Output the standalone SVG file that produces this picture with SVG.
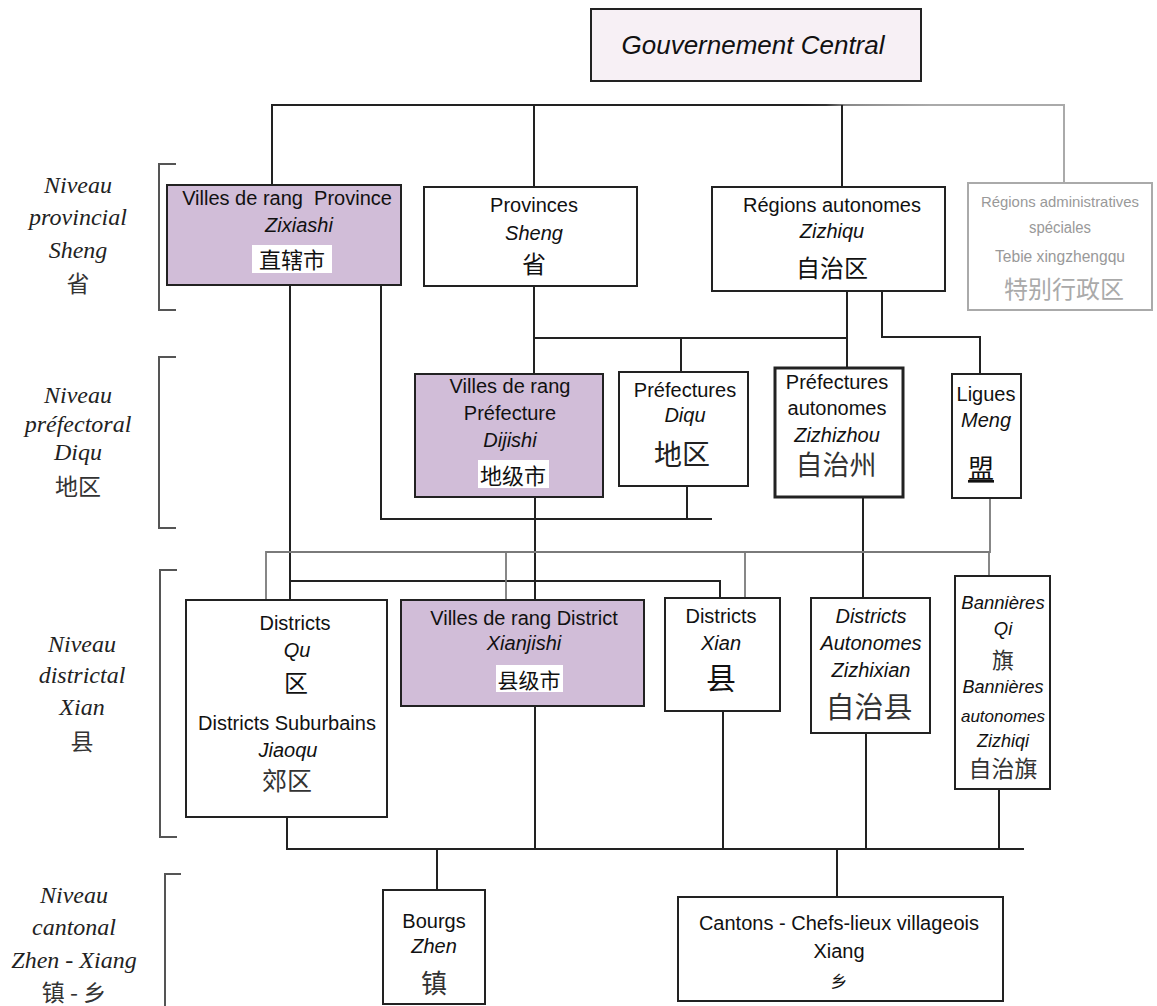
<svg xmlns="http://www.w3.org/2000/svg" width="1157" height="1006" viewBox="0 0 1157 1006">
<style>
.box{fill:#fff;stroke:#222;stroke-width:2}
.pur{fill:#d1bdd8}
.t{font-family:"Liberation Sans","Noto Sans CJK SC",sans-serif;font-size:20px;fill:#111;text-anchor:middle}
.i{font-style:italic}
.zh{font-family:"Noto Sans CJK SC",sans-serif;font-size:22px;fill:#111;text-anchor:middle}
.lbl{font-family:"Liberation Serif","Noto Sans CJK SC",serif;font-style:italic;font-size:24px;fill:#222;text-anchor:middle}
.lzh{font-family:"Noto Sans CJK SC",sans-serif;font-size:23px;fill:#333;text-anchor:middle}
.c{fill:none;stroke:#222;stroke-width:2}
.g{fill:none;stroke:#7a7a7a;stroke-width:1.8}
.br{fill:none;stroke:#555;stroke-width:2}
.gt{fill:#999;font-size:16px}
</style>
<defs>
<linearGradient id="fade" gradientUnits="userSpaceOnUse" x1="800" y1="0" x2="930" y2="0">
<stop offset="0" stop-color="#222"/>
<stop offset="0.2" stop-color="#333"/>
<stop offset="0.35" stop-color="#888"/>
<stop offset="1" stop-color="#aaa"/>
</linearGradient>
</defs>

<g id="connectors">
<path class="c" d="M272,185 V105 H820"/>
<path fill="none" stroke="url(#fade)" stroke-width="2" d="M800,105 H1064 V183"/>
<path class="c" d="M534,105 V187"/>
<path class="c" d="M842,105 V187"/>
<path class="c" d="M290,285 V600"/>
<path class="c" d="M381,285 V519 H712"/>
<path class="c" d="M687,486 V519"/>
<path class="c" d="M534,286 V374"/>
<path class="c" d="M534,338 H847"/>
<path class="c" d="M681,338 V372"/>
<path class="c" d="M847,291 V368"/>
<path class="c" d="M882,291 V337 H980 V374"/>
<path class="c" d="M535,497 V600"/>
<path class="c" d="M290,581 H720 V598"/>
<path class="c" d="M863,497 V598"/>
<path class="g" d="M990,498 V552 H266 V600"/>
<path class="g" d="M506,552 V600"/>
<path class="g" d="M745,552 V601"/>
<path class="g" d="M989,552 V576"/>
<path class="c" d="M287,817 V849 H1024"/>
<path class="c" d="M535,706 V849"/>
<path class="c" d="M723,711 V849"/>
<path class="c" d="M866,733 V849"/>
<path class="c" d="M999,789 V849"/>
<path class="c" d="M437,849 V890"/>
<path class="c" d="M837,849 V897"/>
</g>

<g id="levels">
<path class="br" d="M176,164 H159 V310 H176"/>
<path class="br" d="M176,357 H159 V528 H176"/>
<path class="br" d="M177,570 H160 V837 H177"/>
<path class="br" d="M181,874 H165 V1006"/>
<text class="lbl" x="78" y="193">Niveau</text>
<text class="lbl" x="78" y="225">provincial</text>
<text class="lbl" x="78" y="258">Sheng</text>
<text class="lzh" x="78" y="292">省</text>
<text class="lbl" x="78" y="403">Niveau</text>
<text class="lbl" x="78" y="432">préfectoral</text>
<text class="lbl" x="78" y="460">Diqu</text>
<text class="lzh" x="78" y="495">地区</text>
<text class="lbl" x="82" y="652">Niveau</text>
<text class="lbl" x="82" y="683">districtal</text>
<text class="lbl" x="82" y="715">Xian</text>
<text class="lzh" x="82" y="750">县</text>
<text class="lbl" x="74" y="903">Niveau</text>
<text class="lbl" x="74" y="935">cantonal</text>
<text class="lbl" x="74" y="968">Zhen - Xiang</text>
<text class="lzh" x="74" y="1001">镇 - 乡</text>
</g>

<g id="gouv">
<rect x="591" y="9" width="330" height="72" fill="#f7f0f5" stroke="#222" stroke-width="2"/>
<text class="t i" x="753" y="54" style="font-size:26px">Gouvernement Central</text>
</g>

<g id="villes-province">
<rect class="box pur" x="167" y="185" width="234" height="100"/>
<text class="t" x="287" y="205" xml:space="preserve">Villes de rang  Province</text>
<text class="t i" x="299" y="232">Zixiashi</text>
<rect x="252" y="245" width="80" height="28" fill="#fff"/>
<text class="zh" x="292" y="268">直辖市</text>
</g>

<g id="provinces">
<rect class="box" x="424" y="187" width="213" height="99"/>
<text class="t" x="534" y="212">Provinces</text>
<text class="t i" x="534" y="240">Sheng</text>
<text class="zh" x="534" y="273" style="font-size:24px">省</text>
</g>

<g id="regions-autonomes">
<rect class="box" x="712" y="187" width="233" height="104"/>
<text class="t" x="832" y="212">Régions autonomes</text>
<text class="t i" x="832" y="238">Zizhiqu</text>
<text class="zh" x="832" y="277" style="font-size:24px">自治区</text>
</g>

<g id="regions-administratives">
<rect x="968" y="183" width="184" height="127" fill="#fff" stroke="#aaa" stroke-width="2"/>
<text class="t gt" x="1060" y="207" style="font-size:15px" textLength="158" lengthAdjust="spacingAndGlyphs">Régions administratives</text>
<text class="t gt" x="1060" y="233" textLength="62" lengthAdjust="spacingAndGlyphs">spéciales</text>
<text class="t gt" x="1060" y="262" textLength="130" lengthAdjust="spacingAndGlyphs">Tebie xingzhengqu</text>
<text class="zh" x="1064" y="298" style="font-size:24px;fill:#aaa">特别行政区</text>
</g>

<g id="villes-prefecture">
<rect class="box pur" x="415" y="374" width="188" height="123"/>
<text class="t" x="510" y="393">Villes de rang</text>
<text class="t" x="510" y="420">Préfecture</text>
<text class="t i" x="510" y="447">Dijishi</text>
<rect x="478" y="460" width="71" height="28" fill="#fff"/>
<text class="zh" x="513" y="484">地级市</text>
</g>

<g id="prefectures">
<rect class="box" x="619" y="372" width="129" height="114"/>
<text class="t" x="685" y="397">Préfectures</text>
<text class="t i" x="685" y="422">Diqu</text>
<text class="zh" x="682" y="465" style="font-size:28px;fill:#222">地区</text>
</g>

<g id="prefectures-autonomes">
<rect class="box" x="775" y="368" width="128" height="129" style="stroke-width:3"/>
<text class="t" x="837" y="389">Préfectures</text>
<text class="t" x="837" y="415">autonomes</text>
<text class="t i" x="837" y="442">Zizhizhou</text>
<text class="zh" x="836" y="475" style="font-size:27px;fill:#333">自治州</text>
</g>

<g id="ligues">
<rect class="box" x="952" y="374" width="69" height="124"/>
<text class="t" x="986" y="401">Ligues</text>
<text class="t i" x="986" y="427">Meng</text>
<text class="zh" x="981" y="478" style="font-size:26px;text-decoration:underline">盟</text>
</g>

<g id="districts-qu">
<rect class="box" x="186" y="600" width="201" height="217"/>
<text class="t" x="295" y="630">Districts</text>
<text class="t i" x="297" y="657">Qu</text>
<text class="zh" x="296" y="692" style="font-size:24px">区</text>
<text class="t" x="287" y="730">Districts Suburbains</text>
<text class="t i" x="288" y="757">Jiaoqu</text>
<text class="zh" x="287" y="790" style="font-size:25px;fill:#333">郊区</text>
</g>

<g id="villes-district">
<rect class="box pur" x="401" y="600" width="243" height="106"/>
<text class="t" x="524" y="625">Villes de rang District</text>
<text class="t i" x="524" y="650">Xianjishi</text>
<rect x="496" y="665" width="67" height="27" fill="#fff"/>
<text class="zh" x="529" y="688" style="font-size:21px">县级市</text>
</g>

<g id="districts-xian">
<rect class="box" x="665" y="598" width="115" height="113"/>
<text class="t" x="721" y="623">Districts</text>
<text class="t i" x="721" y="650">Xian</text>
<text class="zh" x="721" y="689" style="font-size:30px">县</text>
</g>

<g id="districts-autonomes">
<rect class="box" x="811" y="598" width="119" height="135"/>
<text class="t i" x="871" y="623">Districts</text>
<text class="t i" x="871" y="650">Autonomes</text>
<text class="t i" x="871" y="677">Zizhixian</text>
<text class="zh" x="869" y="718" style="font-size:29px;fill:#333">自治县</text>
</g>

<g id="bannieres">
<rect class="box" x="955" y="576" width="95" height="213"/>
<text class="t i" x="1003" y="609" style="font-size:18.5px">Bannières</text>
<text class="t i" x="1003" y="635" style="font-size:18.5px">Qi</text>
<text class="zh" x="1003" y="668" style="font-size:22px;fill:#333">旗</text>
<text class="t i" x="1003" y="693" style="font-size:18px">Bannières</text>
<text class="t i" x="1003" y="722" style="font-size:17px">autonomes</text>
<text class="t i" x="1003" y="747" style="font-size:18px">Zizhiqi</text>
<text class="zh" x="1003" y="777" style="font-size:23px;fill:#333">自治旗</text>
</g>

<g id="bourgs">
<rect class="box" x="383" y="890" width="102" height="114"/>
<text class="t" x="434" y="928">Bourgs</text>
<text class="t i" x="434" y="953">Zhen</text>
<text class="zh" x="434" y="993" style="font-size:26px;fill:#333">镇</text>
</g>

<g id="cantons">
<rect class="box" x="678" y="897" width="325" height="104"/>
<text class="t" x="839" y="930">Cantons - Chefs-lieux villageois</text>
<text class="t" x="839" y="958">Xiang</text>
<text class="zh" x="839" y="988" style="font-size:17px">乡</text>
</g>
</svg>
